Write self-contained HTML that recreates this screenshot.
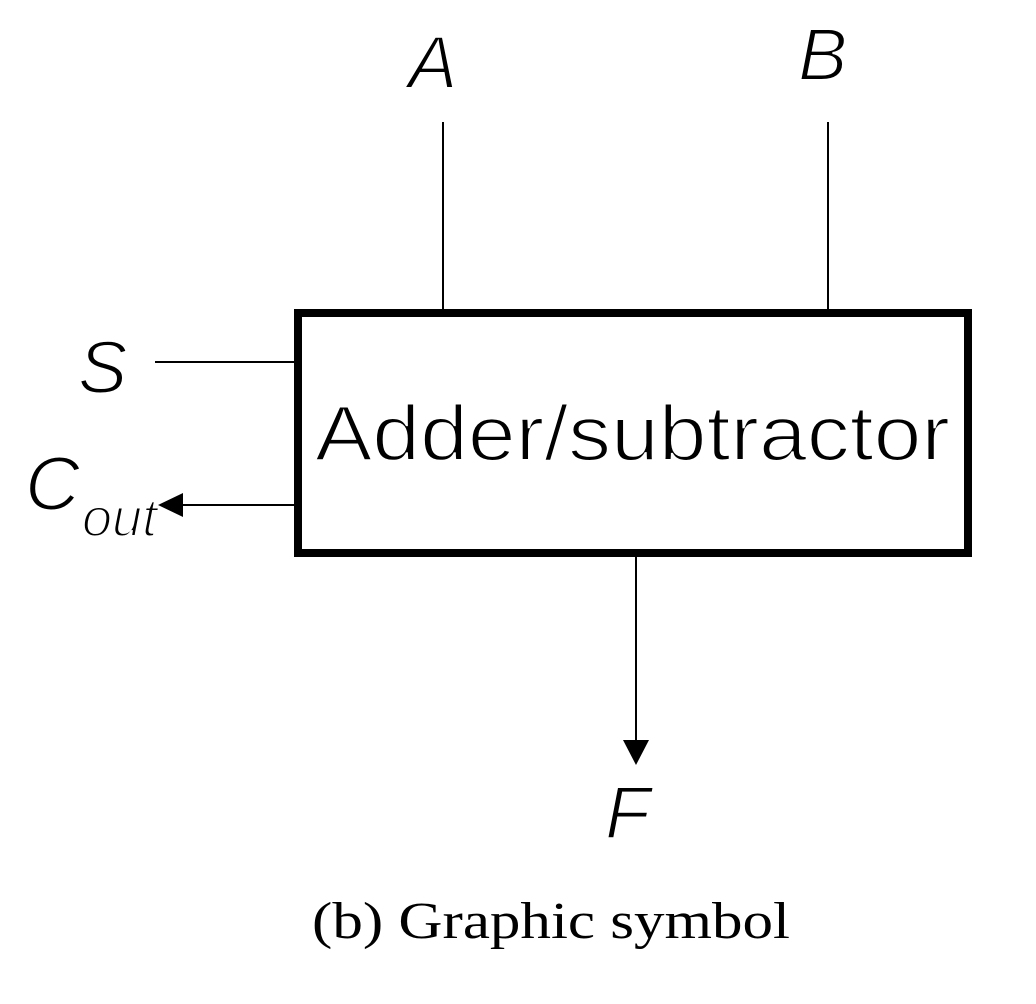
<!DOCTYPE html>
<html><head><style>html,body{margin:0;padding:0;background:#fff}</style></head>
<body>
<svg width="1036" height="999" viewBox="0 0 1036 999" xmlns="http://www.w3.org/2000/svg">
<rect x="298" y="313" width="670" height="240" fill="none" stroke="#000" stroke-width="8"/>
<line x1="443" y1="122" x2="443" y2="310" stroke="#000" stroke-width="2"/>
<line x1="828" y1="122" x2="828" y2="310" stroke="#000" stroke-width="2"/>
<line x1="155" y1="362" x2="295" y2="362" stroke="#000" stroke-width="2"/>
<line x1="180" y1="505" x2="295" y2="505" stroke="#000" stroke-width="2"/>
<polygon points="158,505 183,493 183,517" fill="#000"/>
<line x1="636" y1="556" x2="636" y2="742" stroke="#000" stroke-width="2"/>
<polygon points="636,765 623,740 649,740" fill="#000"/>
<g font-family="'Liberation Sans', 'DejaVu Sans', sans-serif" font-style="italic" fill="#000" stroke="#fff" stroke-width="2">
<text x="408" y="88" font-size="74">A</text>
<text x="798" y="80" font-size="74">B</text>
<text x="78" y="393" font-size="74">S</text>
<text x="25" y="510" font-size="76">C</text>
<text x="82" y="536" font-size="54">out</text>
<text x="605" y="838" font-size="74">F</text>
</g>
<text x="315" y="460" font-family="'Liberation Sans', 'DejaVu Sans', sans-serif" font-size="78" fill="#000" stroke="#fff" stroke-width="2" textLength="635" lengthAdjust="spacingAndGlyphs">Adder/subtractor</text>
<text x="312" y="938" font-family="'Liberation Serif', serif" font-size="52" fill="#000" textLength="478" lengthAdjust="spacingAndGlyphs">(b) Graphic symbol</text>
</svg>
</body></html>
